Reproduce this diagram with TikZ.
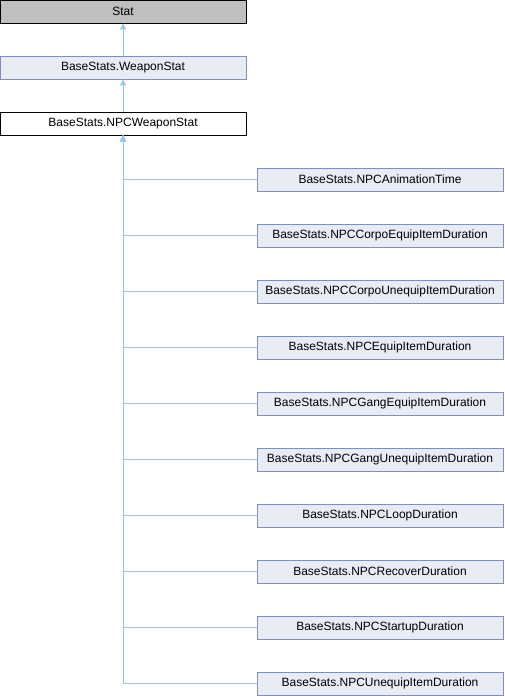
\documentclass[tikz,border=0pt]{standalone}
\usepackage{fontspec}
\setmainfont{Liberation Sans}
\usetikzlibrary{arrows.meta}
\definecolor{boxFill}{HTML}{E8ECF5}
\definecolor{boxLine}{HTML}{7C90C4}
\definecolor{edgeLine}{HTML}{9CC6E6}
\definecolor{rootFill}{HTML}{BFBFBF}
\tikzstyle{base} = [rectangle, text centered, minimum width = 246pt, minimum height = 23pt, inner sep = 0pt, line width = 0.9pt, font = \fontsize{12}{14}\selectfont]
\tikzstyle{root} = [base, draw = black, fill = rootFill]
\tikzstyle{klass} = [base, draw = boxLine, fill = boxFill]
\tikzstyle{current} = [base, draw = black, fill = white]
\tikzstyle{inherit} = [{Triangle[length = 6pt, width = 6pt, fill = edgeLine]}-, draw = edgeLine, line width = 0.9pt]

\begin{document}
\begin{tikzpicture}[node distance = 56pt, x = 1pt, y = 1pt]
\useasboundingbox (0,0) rectangle (504,-696);
\node (stat) [root] at (123,-11.5) {Stat};
\node (weaponStat) [klass, below of = stat] {BaseStats.WeaponStat};
\node (npcWeaponStat) [current, below of = weaponStat] {BaseStats.NPCWeaponStat};

\node (npcAnimationTime) [klass] at (380,-179.5) {BaseStats.NPCAnimationTime};
\node (npcCorpoEquip) [klass, below of = npcAnimationTime] {BaseStats.NPCCorpoEquipItemDuration};
\node (npcCorpoUnequip) [klass, below of = npcCorpoEquip] {BaseStats.NPCCorpoUnequipItemDuration};
\node (npcEquip) [klass, below of = npcCorpoUnequip] {BaseStats.NPCEquipItemDuration};
\node (npcGangEquip) [klass, below of = npcEquip] {BaseStats.NPCGangEquipItemDuration};
\node (npcGangUnequip) [klass, below of = npcGangEquip] {BaseStats.NPCGangUnequipItemDuration};
\node (npcLoop) [klass, below of = npcGangUnequip] {BaseStats.NPCLoopDuration};
\node (npcRecover) [klass, below of = npcLoop] {BaseStats.NPCRecoverDuration};
\node (npcStartup) [klass, below of = npcRecover] {BaseStats.NPCStartupDuration};
\node (npcUnequip) [klass, below of = npcStartup] {BaseStats.NPCUnequipItemDuration};

\draw [inherit] (stat) -- (weaponStat);
\draw [inherit] (weaponStat) -- (npcWeaponStat);
\draw [inherit] (npcWeaponStat) |- (npcAnimationTime);
\draw [inherit] (npcWeaponStat) |- (npcCorpoEquip);
\draw [inherit] (npcWeaponStat) |- (npcCorpoUnequip);
\draw [inherit] (npcWeaponStat) |- (npcEquip);
\draw [inherit] (npcWeaponStat) |- (npcGangEquip);
\draw [inherit] (npcWeaponStat) |- (npcGangUnequip);
\draw [inherit] (npcWeaponStat) |- (npcLoop);
\draw [inherit] (npcWeaponStat) |- (npcRecover);
\draw [inherit] (npcWeaponStat) |- (npcStartup);
\draw [inherit] (npcWeaponStat) |- (npcUnequip);
\end{tikzpicture}
\end{document}
